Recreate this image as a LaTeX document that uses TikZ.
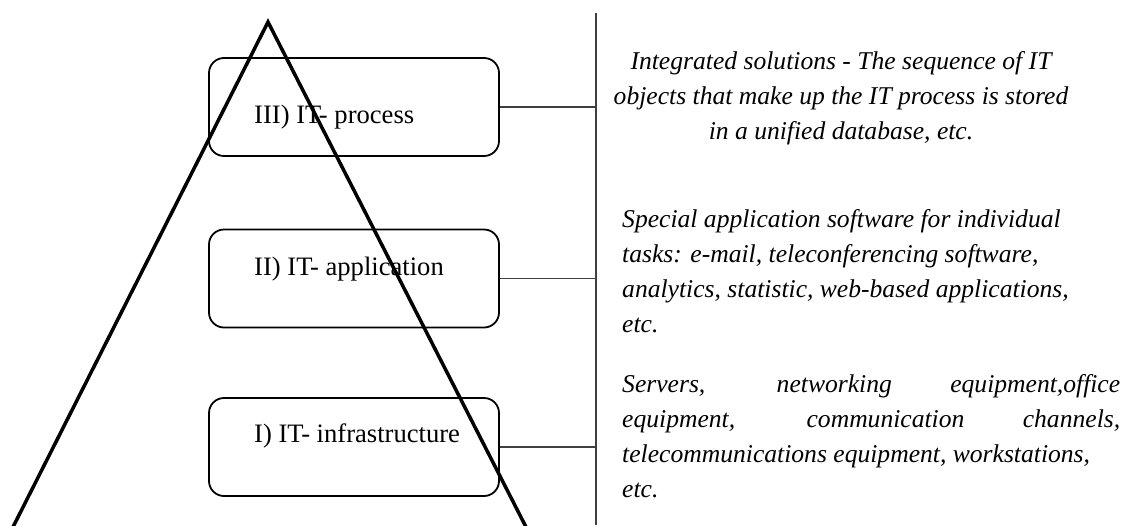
\documentclass[tikz,border=0pt]{standalone}
\usepackage{fontspec}
\setmainfont{Liberation Serif}
\begin{document}
\begin{tikzpicture}[x=1pt,y=-1pt,
  box/.style={draw,line width=1.8pt,rounded corners=15pt,minimum width=290pt,minimum height=98pt,inner sep=0pt},
  boxtext/.style={anchor=base west,inner sep=0pt,font=\fontsize{26.6}{32}\selectfont},
  desc/.style={inner sep=0pt,font=\fontsize{25.6}{35}\selectfont\itshape},
  link/.style={draw=black!75,line width=1.2pt},
  tri/.style={line width=3.5pt}]
\useasboundingbox (0,0) rectangle (1129,525);
% boxes
\node[box] (b3) at (354,107) {};
\node[box] (b2) at (354,278.5) {};
\node[box] (b1) at (354,447) {};
\node[boxtext] (t3) at (254,123) {III) IT- process};
\node[boxtext] (t2) at (254,275) {II) IT- application};
\node[boxtext] (t1) at (254,442) {I) IT- infrastructure};
% vertical line
\coordinate (vt) at (596,13);
\coordinate (vb) at (596,525);
\draw[link] (vt) -- (vb);
\draw[link] (b3.east) -- (b3.east -| vt);
\draw[link] (b2.east) -- (b2.east -| vt);
\draw[link] (b1.east) -- (b1.east -| vt);
% triangle
\coordinate (apex) at (268,22);
\coordinate (bl) at (12.5,528);
\coordinate (br) at (526.5,528);
\draw[tri] (bl) -- (apex) -- (br);
% descriptions
\node[desc,align=center,anchor=north] (d3) at (841,51) {\spaceskip=0pt\xspaceskip=0pt Integrated solutions - The sequence of IT\\objects that make up the IT process is stored\\in a unified database, etc.};
\node[desc,align=left,anchor=north west] (d2) at (622,209) {\spaceskip=0pt\xspaceskip=0pt Special application software for individual\\tasks: e-mail, teleconferencing software,\\analytics, statistic, web-based applications,\\etc.};
\node[desc,text width=498pt,align=left,anchor=base west] (d1) at (622,392) {\spaceskip=0pt\xspaceskip=0pt \makebox[498pt][s]{Servers, networking equipment,office}\\\makebox[498pt][s]{equipment, communication channels,}\\telecommunications equipment, workstations,\\etc.};
\end{tikzpicture}
\end{document}
